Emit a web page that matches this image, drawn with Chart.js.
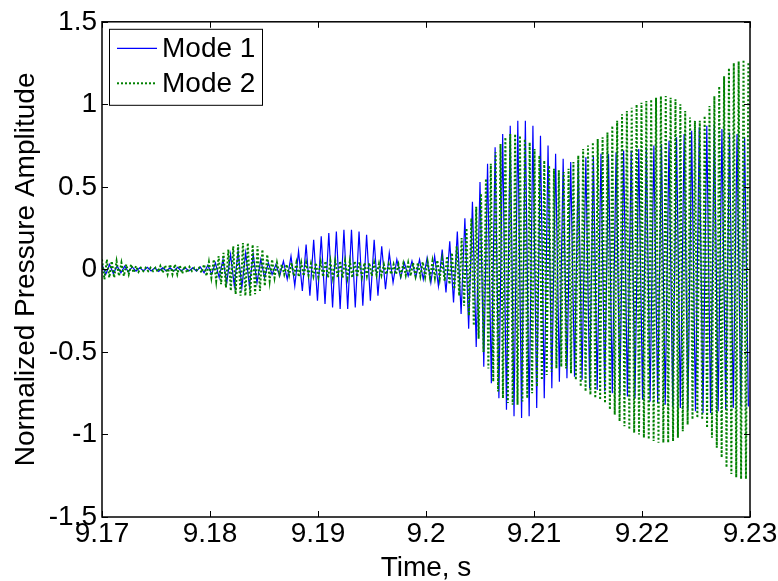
<!DOCTYPE html>
<html>
<head>
<meta charset="utf-8">
<title>Normalized pressure amplitude</title>
<script src="https://cdn.jsdelivr.net/npm/chart.js@4/dist/chart.umd.min.js"></script>
<style>
  html, body { margin: 0; padding: 0; background: #fff; }
  #wrap { width: 778px; height: 581px; }
</style>
</head>
<body>
<div id="wrap"><canvas id="chart" width="778" height="581"></canvas></div>
<script>
const MODE1_START = 9.17;
const MODE1_STEP = 0.00035;
const mode1Values = [
  0.03, -0.03, 0.03, -0.025, 0.02, -0.02, 0.02, -0.015, 0.015, -0.01,
  0.01, -0.01, 0.012, -0.01, 0.01, -0.012, 0.01, -0.01, 0.01, -0.01,
  0.012, -0.01, 0.01, -0.01, 0.01, -0.01, 0.015, -0.02, 0.025, -0.03,
  0.04, -0.05, 0.06, -0.08, 0.09, -0.1, 0.11, -0.11, 0.1, -0.1,
  0.09, -0.08, 0.06, -0.05, 0.04, -0.03, 0.03, -0.04, 0.05, -0.06,
  0.08, -0.1, 0.11, -0.13, 0.15, -0.16, 0.18, -0.19, 0.2, -0.21,
  0.22, -0.23, 0.23, -0.24, 0.24, -0.24, 0.24, -0.23, 0.23, -0.22,
  0.21, -0.19, 0.18, -0.16, 0.14, -0.12, 0.1, -0.08, 0.06, -0.05,
  0.04, -0.04, 0.05, -0.05, 0.06, -0.06, 0.07, -0.08, 0.08, -0.1,
  0.12, -0.14, 0.17, -0.2, 0.23, -0.27, 0.31, -0.36, 0.41, -0.47,
  0.53, -0.59, 0.64, -0.69, 0.74, -0.78, 0.82, -0.85, 0.87, -0.89,
  0.9, -0.9, 0.9, -0.89, 0.87, -0.84, 0.81, -0.78, 0.75, -0.72,
  0.7, -0.68, 0.67, -0.66, 0.65, -0.65, 0.66, -0.67, 0.68, -0.72,
  0.69, -0.73, 0.7, -0.74, 0.7, -0.75, 0.71, -0.76, 0.72, -0.77,
  0.72, -0.78, 0.73, -0.79, 0.74, -0.8, 0.75, -0.81, 0.76, -0.82,
  0.78, -0.83, 0.8, -0.84, 0.82, -0.85, 0.84, -0.86, 0.86, -0.87,
  0.87, -0.87, 0.88, -0.86, 0.85, -0.85, 0.83, -0.84, 0.82, -0.83,
  0.8, -0.83
];

const MODE2_START = 9.17;
const MODE2_STEP = 0.000225;
const mode2Values = [
  0.06, -0.06, 0.06, -0.05, 0.05, -0.05, 0.05, -0.04, 0.04, -0.04,
  0.03, -0.03, 0.03, -0.02, 0.02, -0.015, 0.01, -0.01, 0.01, -0.01,
  0.01, -0.01, 0.01, -0.015, 0.02, -0.02, 0.025, -0.03, 0.03, -0.03,
  0.03, -0.03, 0.025, -0.025, 0.02, -0.02, 0.015, -0.01, 0.01, -0.005,
  0.01, -0.02, 0.03, -0.04, 0.045, -0.05, 0.06, -0.07, 0.08, -0.09,
  0.1, -0.11, 0.12, -0.13, 0.14, -0.15, 0.15, -0.16, 0.16, -0.16,
  0.16, -0.16, 0.15, -0.15, 0.14, -0.13, 0.12, -0.1, 0.09, -0.07,
  0.06, -0.05, 0.04, -0.03, 0.03, -0.03, 0.03, -0.035, 0.04, -0.04,
  0.04, -0.045, 0.04, -0.04, 0.04, -0.035, 0.035, -0.04, 0.04, -0.045,
  0.045, -0.045, 0.05, -0.05, 0.05, -0.05, 0.05, -0.05, 0.05, -0.05,
  0.05, -0.05, 0.05, -0.05, 0.05, -0.045, 0.045, -0.045, 0.04, -0.04,
  0.04, -0.04, 0.04, -0.035, 0.035, -0.035, 0.03, -0.03, 0.03, -0.03,
  0.03, -0.03, 0.03, -0.035, 0.035, -0.035, 0.04, -0.04, 0.04, -0.04,
  0.04, -0.04, 0.045, -0.045, 0.045, -0.05, 0.05, -0.05, 0.055, -0.055,
  0.06, -0.07, 0.08, -0.09, 0.1, -0.12, 0.14, -0.16, 0.19, -0.22,
  0.25, -0.28, 0.31, -0.34, 0.38, -0.42, 0.46, -0.5, 0.55, -0.6,
  0.64, -0.68, 0.71, -0.74, 0.76, -0.78, 0.8, -0.81, 0.82, -0.82,
  0.82, -0.82, 0.81, -0.8, 0.79, -0.78, 0.77, -0.75, 0.73, -0.71,
  0.69, -0.67, 0.66, -0.64, 0.63, -0.62, 0.61, -0.6, 0.6, -0.59,
  0.59, -0.6, 0.61, -0.63, 0.65, -0.67, 0.69, -0.71, 0.73, -0.74,
  0.75, -0.76, 0.77, -0.78, 0.79, -0.79, 0.8, -0.81, 0.83, -0.85,
  0.87, -0.88, 0.9, -0.92, 0.94, -0.95, 0.96, -0.97, 0.98, -0.99,
  1.0, -1.0, 1.01, -1.02, 1.02, -1.03, 1.03, -1.04, 1.04, -1.05,
  1.05, -1.05, 1.05, -1.05, 1.04, -1.04, 1.03, -1.02, 1.0, -0.98,
  0.96, -0.94, 0.92, -0.91, 0.9, -0.9, 0.9, -0.91, 0.93, -0.96,
  0.99, -1.02, 1.05, -1.08, 1.11, -1.14, 1.17, -1.2, 1.22, -1.24,
  1.25, -1.26, 1.26, -1.27, 1.27, -1.27, 1.26
];

const seriesLabels = ["Mode 1", "Mode 2"];
const xTicks = [9.17, 9.18, 9.19, 9.2, 9.21, 9.22, 9.23];
const yTicks = [-1.5, -1, -0.5, 0, 0.5, 1, 1.5];

const FONT = "'Liberation Sans', Arial, Helvetica, sans-serif";
const FONT_SIZE = 28;

function toPoints(start, step, values) {
  return values.map((v, i) => ({ x: start + i * step, y: v }));
}

// matlab style box with inward ticks on all four sides
const boxPlugin = {
  id: "box",
  afterDatasetsDraw(chart) {
    const { ctx, chartArea: a, scales } = chart;
    const len = 6;
    ctx.save();
    ctx.strokeStyle = "#000";
    ctx.lineWidth = 1;
    ctx.beginPath();
    for (const v of xTicks) {
      const px = Math.round(scales.x.getPixelForValue(v)) + 0.5;
      ctx.moveTo(px, a.bottom);
      ctx.lineTo(px, a.bottom - len);
      ctx.moveTo(px, a.top);
      ctx.lineTo(px, a.top + len);
    }
    for (const v of yTicks) {
      const py = Math.round(scales.y.getPixelForValue(v)) + 0.5;
      ctx.moveTo(a.left, py);
      ctx.lineTo(a.left + len, py);
      ctx.moveTo(a.right, py);
      ctx.lineTo(a.right - len, py);
    }
    ctx.stroke();
    ctx.lineWidth = 1.5;
    ctx.strokeRect(a.left, a.top, a.right - a.left, a.bottom - a.top);
    ctx.restore();
  },
};

// legend drawn by hand so the line samples keep their dash pattern
const legendPlugin = {
  id: "matlabLegend",
  afterDraw(chart) {
    const { ctx, chartArea: a } = chart;
    const x0 = a.left + 7;
    const y0 = a.top + 7;
    const w = 153;
    const h = 76;
    ctx.save();
    ctx.fillStyle = "#fff";
    ctx.fillRect(x0, y0, w, h);
    ctx.strokeStyle = "#000";
    ctx.lineWidth = 1;
    ctx.strokeRect(x0 + 0.5, y0 + 0.5, w, h);
    ctx.font = FONT_SIZE + "px " + FONT;
    ctx.textBaseline = "middle";
    chart.data.datasets.forEach((ds, i) => {
      const cy = y0 + 19 + i * 35;
      ctx.strokeStyle = ds.borderColor;
      ctx.lineWidth = ds.borderWidth;
      ctx.setLineDash(ds.borderDash || []);
      ctx.beginPath();
      ctx.moveTo(x0 + 8, cy + 0.5);
      ctx.lineTo(x0 + 48, cy + 0.5);
      ctx.stroke();
      ctx.setLineDash([]);
      ctx.fillStyle = "#000";
      ctx.fillText(ds.label, x0 + 53, cy + 1);
    });
    ctx.restore();
  },
};

new Chart(document.getElementById("chart"), {
  type: "line",
  data: {
    datasets: [
      {
        label: seriesLabels[0],
        data: toPoints(MODE1_START, MODE1_STEP, mode1Values),
        borderColor: "#0000ff",
        borderWidth: 1.2,
        order: 1,
      },
      {
        label: seriesLabels[1],
        data: toPoints(MODE2_START, MODE2_STEP, mode2Values),
        borderColor: "#008000",
        borderWidth: 2,
        borderDash: [2, 2],
        order: 0,
      },
    ],
  },
  options: {
    responsive: false,
    animation: false,
    devicePixelRatio: 1,
    layout: { padding: { top: 20, right: 28, left: 0, bottom: 0 } },
    elements: { point: { radius: 0 }, line: { tension: 0 } },
    plugins: { legend: { display: false }, tooltip: { enabled: false } },
    scales: {
      x: {
        type: "linear",
        min: 9.17,
        max: 9.23,
        afterBuildTicks: (s) => { s.ticks = xTicks.map((v) => ({ value: v })); },
        afterFit: (s) => { s.height = 64; },
        grid: { display: false, drawTicks: false },
        border: { display: false },
        ticks: {
          autoSkip: false,
          maxRotation: 0,
          padding: 0,
          color: "#000",
          font: { size: FONT_SIZE, family: FONT },
          callback: (v) => String(v),
        },
        title: {
          display: true,
          text: "Time, s",
          color: "#000",
          font: { size: FONT_SIZE, family: FONT },
          padding: { top: 0, bottom: -4 },
        },
      },
      y: {
        min: -1.5,
        max: 1.5,
        afterBuildTicks: (s) => { s.ticks = yTicks.map((v) => ({ value: v })); },
        afterFit: (s) => { s.width = 102; },
        grid: { display: false, drawTicks: false },
        border: { display: false },
        ticks: {
          padding: 5,
          color: "#000",
          font: { size: FONT_SIZE, family: FONT },
          callback: (v) => String(v),
        },
        title: {
          display: true,
          text: "Normalized Pressure Amplitude",
          color: "#000",
          font: { size: FONT_SIZE, family: FONT },
          padding: { top: 9, bottom: 0 },
        },
      },
    },
  },
  plugins: [boxPlugin, legendPlugin],
});
</script>
</body>
</html>
